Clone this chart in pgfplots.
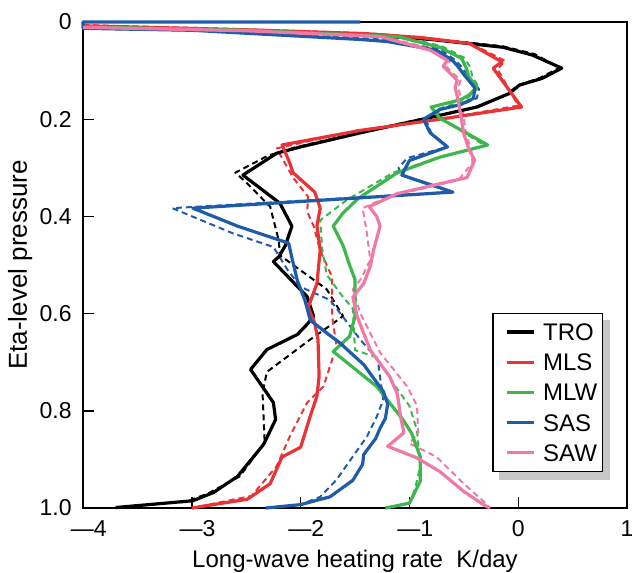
\documentclass[border=0pt]{standalone}
\usepackage{pgfplots}
\pgfplotsset{compat=1.18}
\usepackage{fontspec}
\setmainfont{Liberation Sans}
\usetikzlibrary{backgrounds}
\definecolor{cTRO}{RGB}{0,0,0}
\definecolor{cMLS}{RGB}{232,52,55}
\definecolor{cMLW}{RGB}{62,182,78}
\definecolor{cSAS}{RGB}{30,92,170}
\definecolor{cSAW}{RGB}{240,122,165}

\pgfplotstableread{
x y
-4.0 0.012
-2.5 0.018
-1.4 0.026
-0.8 0.036
-0.14 0.052
0.13 0.068
0.40 0.095
0.22 0.116
0.01 0.13
-0.08 0.147
-0.38 0.175
-0.88 0.20
-1.45 0.228
-2.0 0.257
-2.22 0.27
-2.53 0.315
-2.19 0.373
-2.08 0.42
-2.14 0.46
-2.20 0.483
-2.25 0.493
-1.94 0.565
-1.88 0.606
-1.94 0.622
-2.03 0.643
-2.31 0.674
-2.46 0.715
-2.25 0.783
-2.23 0.818
-2.34 0.869
-2.58 0.935
-2.80 0.968
-2.99 0.985
-3.70 0.999
}\troS
\pgfplotstableread{
x y
-4.0 0.010
-2.5 0.017
-1.4 0.024
-0.8 0.034
-0.14 0.050
0.15 0.066
0.38 0.094
0.20 0.115
0.0 0.13
-0.1 0.148
-0.4 0.176
-0.9 0.20
-1.5 0.229
-2.05 0.258
-2.3 0.275
-2.6 0.31
-2.5 0.33
-2.28 0.38
-2.2 0.45
-2.19 0.48
-1.76 0.55
-1.61 0.605
-1.70 0.62
-1.91 0.653
-2.31 0.72
-2.35 0.763
-2.33 0.866
-2.56 0.935
-2.85 0.970
-3.05 0.987
-3.70 0.999
}\troD
\pgfplotstableread{
x y
-4.0 0.008
-2.5 0.016
-1.4 0.024
-0.9 0.032
-0.45 0.044
-0.15 0.082
-0.23 0.095
0.03 0.175
-0.72 0.20
-1.45 0.223
-2.17 0.253
-2.1 0.29
-2.07 0.31
-1.87 0.35
-1.82 0.383
-1.85 0.42
-1.84 0.435
-1.82 0.47
-1.85 0.538
-1.93 0.587
-1.87 0.62
-1.84 0.654
-1.83 0.73
-1.85 0.77
-1.91 0.81
-2.0 0.875
-2.17 0.895
-2.28 0.95
-2.49 0.982
-3.0 1.0
}\mlsS
\pgfplotstableread{
x y
-4.0 0.006
-2.5 0.015
-1.4 0.023
-0.9 0.031
-0.42 0.046
-0.12 0.08
-0.19 0.097
0.0 0.172
-0.72 0.2
-1.5 0.224
-2.22 0.26
-2.07 0.32
-1.93 0.36
-1.94 0.39
-1.88 0.42
-1.82 0.47
-1.71 0.525
-1.71 0.606
-1.67 0.667
-1.79 0.75
-1.94 0.783
-2.1 0.853
-2.22 0.914
-2.45 0.975
-3.0 1.0
}\mlsD
\pgfplotstableread{
x y
-4.0 0.01
-2.5 0.017
-1.11 0.03
-0.72 0.052
-0.52 0.075
-0.48 0.093
-0.45 0.114
-0.38 0.134
-0.45 0.15
-0.53 0.16
-0.8 0.175
-0.72 0.198
-0.28 0.253
-0.72 0.278
-1.11 0.31
-1.47 0.363
-1.61 0.393
-1.70 0.42
-1.61 0.46
-1.55 0.50
-1.50 0.53
-1.50 0.606
-1.55 0.647
-1.70 0.678
-1.30 0.75
-1.06 0.818
-0.98 0.846
-0.90 0.895
-0.90 0.945
-1.00 0.99
-1.22 1.0
}\mlwS
\pgfplotstableread{
x y
-4.0 0.009
-2.5 0.016
-1.1 0.028
-0.7 0.05
-0.5 0.073
-0.44 0.093
-0.42 0.114
-0.36 0.134
-0.43 0.15
-0.5 0.162
-0.75 0.18
-0.7 0.2
-0.3 0.255
-0.75 0.28
-1.15 0.31
-1.58 0.367
-1.82 0.408
-1.80 0.47
-1.76 0.52
-1.63 0.56
-1.52 0.59
-1.5 0.675
-1.3 0.69
-1.15 0.743
-1.0 0.79
-0.93 0.84
-0.9 0.914
-0.95 0.962
-1.0 0.99
-1.22 1.0
}\mlwD
\pgfplotstableread{
x y
-1.45 0.0
-4.0 0.0
-4.0 0.013
-3.0 0.017
-1.45 0.036
-1.21 0.040
-0.75 0.058
-0.6 0.08
-0.56 0.09
-0.5 0.108
-0.4 0.135
-0.41 0.157
-0.53 0.17
-0.72 0.18
-0.87 0.2
-0.81 0.228
-0.65 0.257
-1.0 0.285
-1.07 0.315
-0.6 0.35
-2.99 0.383
-2.58 0.42
-2.11 0.455
-2.08 0.485
-2.03 0.532
-1.96 0.573
-1.91 0.614
-1.73 0.645
-1.64 0.66
-1.42 0.705
-1.24 0.76
-1.2 0.786
-1.22 0.815
-1.27 0.836
-1.31 0.857
-1.42 0.89
-1.43 0.91
-1.52 0.943
-1.73 0.977
-2.0 0.993
-2.32 1.0
}\sasS
\pgfplotstableread{
x y
-4.0 0.011
-3.0 0.015
-1.45 0.033
-1.2 0.037
-0.72 0.056
-0.58 0.078
-0.53 0.09
-0.47 0.108
-0.36 0.138
-0.38 0.157
-0.5 0.168
-0.7 0.178
-0.85 0.2
-0.8 0.228
-0.65 0.257
-1.02 0.28
-1.1 0.3
-1.07 0.315
-0.62 0.35
-3.18 0.383
-2.62 0.435
-2.25 0.463
-2.12 0.51
-2.0 0.545
-1.73 0.572
-1.64 0.598
-1.45 0.654
-1.29 0.695
-1.27 0.73
-1.24 0.777
-1.3 0.812
-1.39 0.853
-1.52 0.894
-1.67 0.942
-1.82 0.977
-2.0 0.993
-2.32 1.0
}\sasD
\pgfplotstableread{
x y
-4.0 0.011
-2.5 0.018
-1.27 0.03
-0.81 0.058
-0.65 0.079
-0.69 0.091
-0.56 0.12
-0.58 0.134
-0.55 0.163
-0.5 0.23
-0.45 0.264
-0.4 0.284
-0.47 0.32
-1.11 0.353
-1.37 0.38
-1.30 0.40
-1.27 0.42
-1.33 0.47
-1.36 0.503
-1.42 0.538
-1.52 0.566
-1.48 0.606
-1.36 0.675
-1.18 0.73
-1.11 0.766
-1.08 0.814
-1.05 0.845
-1.2 0.873
-0.93 0.897
-0.72 0.925
-0.5 0.966
-0.32 0.993
-0.26 1.0
}\sawS
\pgfplotstableread{
x y
-4.0 0.01
-2.5 0.017
-1.25 0.029
-0.78 0.056
-0.62 0.078
-0.66 0.092
-0.53 0.12
-0.55 0.135
-0.52 0.165
-0.48 0.23
-0.43 0.265
-0.42 0.29
-0.55 0.325
-1.2 0.36
-1.43 0.383
-1.39 0.435
-1.36 0.49
-1.45 0.53
-1.52 0.55
-1.45 0.6
-1.27 0.68
-1.02 0.75
-0.93 0.79
-0.92 0.846
-1.0 0.867
-0.75 0.895
-0.5 0.95
-0.3 0.99
-0.26 1.0
}\sawD

\begin{document}
\begin{tikzpicture}
\begin{axis}[
  name=ax,
  scale only axis,
  clip=false,
  width=272pt, height=243pt,
  xmin=-4, xmax=1, ymin=0, ymax=1,
  y dir=reverse,
  xtick={-4,-3,-2,-1,0,1},
  xticklabels={\hspace{0.5em}---4,\hspace{0.5em}---3,\hspace{0.5em}---2,\hspace{0.5em}---1,0,1},
  ytick={0,0.2,0.4,0.6,0.8,1.0},
  yticklabels={0,0.2,0.4,0.6,0.8,1.0},
  tick align=inside,
  xtick pos=bottom, ytick pos=left,
  major tick length=5.5pt,
  tick style={black, line width=0.7pt},
  axis line style={line width=0.7pt},
  xticklabel style={font=\fontsize{11.5}{14}\selectfont, inner ysep=0pt, yshift=-6pt},
  yticklabel style={font=\fontsize{11.5}{14}\selectfont, inner xsep=0pt, xshift=-5.5pt},
  xlabel={Long-wave heating rate\ \ K/day},
  ylabel={Eta-level pressure},
  xlabel style={font=\fontsize{12}{14}\selectfont, at={(axis description cs:0.5,0)}, anchor=base, yshift=-29.5pt},
  ylabel style={font=\fontsize{13}{15}\selectfont, at={([xshift=-28pt]axis description cs:0,0.5)}, anchor=base},
  legend cell align=left,
  legend style={name=leg, at={(0.956,0.074)}, anchor=south east, draw=black, line width=0.7pt,
    fill=white, font=\fontsize{12}{14}\selectfont,
    inner xsep=2.5pt, inner ysep=1.75pt, column sep=4pt,
    nodes={inner xsep=0pt, inner ysep=3.25pt, text height=8.6pt, text depth=0pt}},
  legend image code/.code={\path (0pt,0pt); \draw[#1, line width=1.6pt] (3.5pt,0pt) -- (17pt,0pt);},
  every axis plot/.append style={line join=round},
]
\addplot[cTRO, line width=1pt, dash pattern=on 3pt off 2pt, forget plot] table {\troD};
\addplot[cMLS, line width=1pt, dash pattern=on 3pt off 2pt, forget plot] table {\mlsD};
\addplot[cMLW, line width=1pt, dash pattern=on 3pt off 2pt, forget plot] table {\mlwD};
\addplot[cSAS, line width=1pt, dash pattern=on 3pt off 2pt, forget plot] table {\sasD};
\addplot[cSAW, line width=1pt, dash pattern=on 3pt off 2pt, forget plot] table {\sawD};
\addplot[cTRO, line width=1.6pt] table {\troS};
\addlegendentry{TRO}
\addplot[cMLS, line width=1.6pt] table {\mlsS};
\addlegendentry{MLS}
\addplot[cMLW, line width=1.6pt] table {\mlwS};
\addlegendentry{MLW}
\addplot[cSAS, line width=1.6pt] table {\sasS};
\addlegendentry{SAS}
\addplot[cSAW, line width=1.6pt] table {\sawS};
\addlegendentry{SAW}
\end{axis}
\begin{scope}[on background layer]
\fill[black!22] ([shift={(3.5pt,-3.8pt)}]leg.south west) rectangle ([shift={(3.5pt,-3.8pt)}]leg.north east);
\end{scope}
\pgfresetboundingbox
\useasboundingbox ([shift={(-41.5pt,-32pt)}]ax.south west) rectangle ([shift={(2.5pt,11pt)}]ax.north east);
\end{tikzpicture}
\end{document}
